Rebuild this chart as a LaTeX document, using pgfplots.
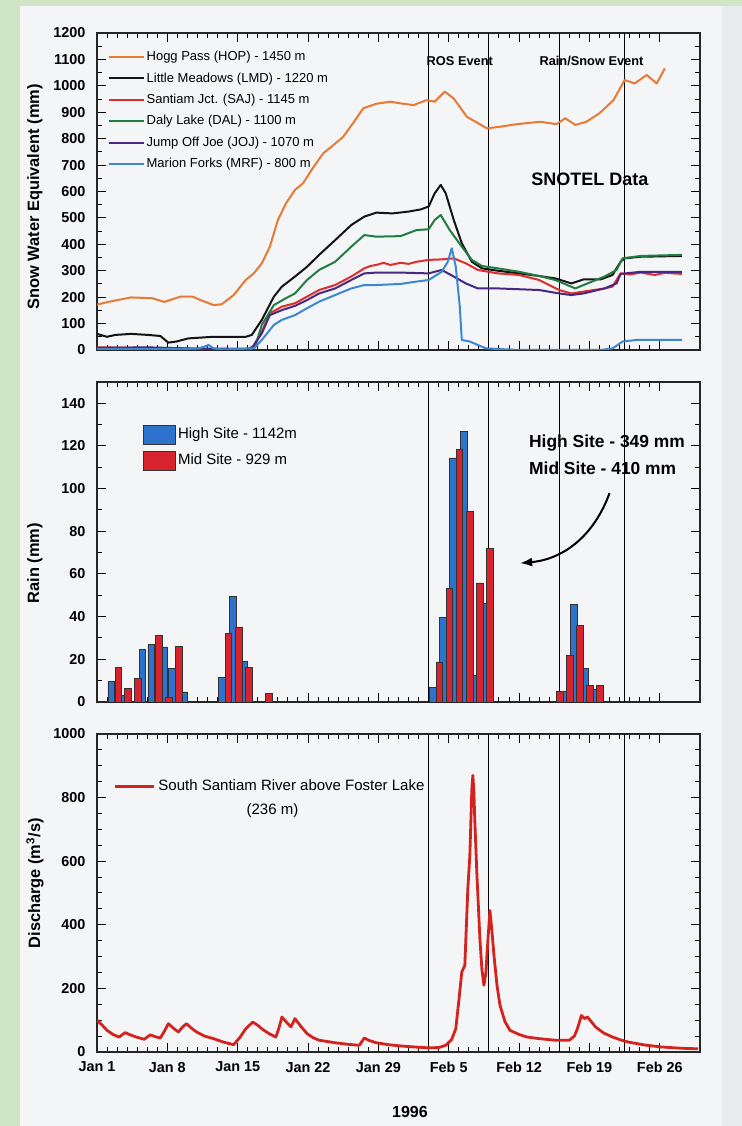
\documentclass[border=0pt]{standalone}
\usepackage{fontspec}
\setmainfont{Liberation Sans}
\usepackage{pgfplots}
\pgfplotsset{compat=1.18}
\usetikzlibrary{arrows.meta}

\definecolor{paper}{RGB}{243,245,247}
\definecolor{sidebar}{RGB}{207,229,198}
\definecolor{edge}{RGB}{233,236,238}
\definecolor{hop}{RGB}{232,122,52}
\definecolor{lmd}{RGB}{20,20,20}
\definecolor{saj}{RGB}{222,45,45}
\definecolor{dal}{RGB}{35,125,65}
\definecolor{joj}{RGB}{72,40,130}
\definecolor{mrf}{RGB}{60,135,210}
\definecolor{barblue}{RGB}{45,115,205}
\definecolor{barred}{RGB}{215,35,45}
\definecolor{river}{RGB}{212,35,30}

\pgfplotsset{
  panel/.style={
    scale only axis, width=301.5pt, anchor=south west,
    xmin=0, xmax=60,
    xtick={0,7,...,56}, minor x tick num=6,
    tick align=inside,
    major tick length=4.5pt, minor tick length=2.5pt,
    every tick/.style={black, line width=0.5pt},
    axis line style={black!85, line width=0.8pt},
    ticklabel style={font=\bfseries\fontsize{7.2}{8}\selectfont},
    yticklabel style={xshift=-2.3pt},
    xticklabel style={yshift=-1.5pt},
    /pgf/number format/assume math mode=true,
    /pgf/number format/1000 sep={},
    every axis y label/.style={at={(rel axis cs:0,0.5)}, xshift=-31pt, rotate=90, anchor=center,
      font=\bfseries\fontsize{8.2}{9}\selectfont},
  },
  event/.style={black, line width=0.5pt, forget plot},
}

\begin{document}
\begin{tikzpicture}
\fill[paper] (0pt,0pt) rectangle (371pt,563pt);
\fill[edge] (361pt,0pt) rectangle (371pt,563pt);
\fill[sidebar] (0pt,0pt) rectangle (10pt,563pt);
\fill[sidebar] (0pt,560pt) rectangle (371pt,563pt);
\useasboundingbox (0pt,0pt) rectangle (371pt,563pt);

% ---------- snow water equivalent
\begin{axis}[panel, at={(48.5pt,388pt)}, height=158.5pt,
  ymin=0, ymax=1200, ytick={0,100,...,1200}, minor y tick num=1,
  xticklabels=\empty,
  ylabel={Snow Water Equivalent (mm)}, ylabel style={at={(rel axis cs:0,0.483)}},
  legend style={at={(rel axis cs:0.017,0.952)}, anchor=north west, draw=none, fill=none,
    font=\fontsize{6.5}{7}\selectfont, row sep=2.4pt, inner sep=0pt,
    nodes={inner sep=1pt, text height=5pt, text depth=1.3pt}},
  legend cell align=left,
  legend image code/.code={\draw[#1] (0pt,0pt) -- (17.5pt,0pt);},
  every axis plot/.append style={line width=1pt, line join=round}]
\addplot[event] coordinates {(33,0) (33,1200)};
\addplot[event] coordinates {(39,0) (39,1200)};
\addplot[event] coordinates {(46,0) (46,1200)};
\addplot[event] coordinates {(52.5,0) (52.5,1200)};

\addplot[hop] coordinates {
 (0,172) (1.5,185) (3.4,199) (5.5,196) (6.7,182) (8.3,202) (9.5,202) (10.3,189)
 (11.6,170) (12.4,173) (13.6,208) (14.8,265) (15.6,290) (16.4,328) (17.2,391)
 (18.0,492) (18.8,555) (19.7,606) (20.5,631) (21.5,690) (22.5,744) (23.5,775)
 (24.5,807) (25.5,860) (26.5,915) (27.8,932) (29.2,940) (30.1,934) (31.5,927)
 (32.8,946) (33.6,940) (34.6,978) (35.5,952) (36.8,883) (38.8,839) (40.1,845)
 (41.8,855) (44.1,864) (45.7,855) (46.6,877) (47.6,852) (48.7,864) (50.0,896)
 (51.4,946) (52.5,1022) (53.5,1009) (54.7,1041) (55.7,1009) (56.5,1066)};
\addlegendentry{Hogg Pass (HOP) - 1450 m}

\addplot[lmd] coordinates {
 (0,61) (1.0,50) (1.8,57) (3.4,61) (5.1,57) (6.3,53) (7.1,28) (7.9,32) (9.1,44)
 (11.6,50) (14.8,50) (15.4,57) (16.4,114) (17.6,202) (18.4,240) (19.7,278)
 (20.9,315) (22.1,360) (23.7,416) (25.3,473) (26.6,505) (27.8,520) (29.4,517)
 (31.0,524) (32.2,532) (33.0,543) (33.6,593) (34.2,625) (34.7,593) (35.5,492)
 (36.3,404) (37.3,334) (38.3,309) (39.9,300) (42.0,290) (44.0,280) (45.6,271)
 (47.2,252) (48.4,267) (50.1,267) (51.3,284) (52.1,334) (52.5,347) (54.1,353)
 (58.2,356)};
\addlegendentry{Little Meadows (LMD) - 1220 m}

\addplot[saj] coordinates {
 (0,10) (5,8) (10,5) (15,5) (15.4,6) (16.4,69) (17.2,139) (18.4,164) (19.7,177)
 (20.9,202) (22.1,227) (23.7,246) (25.3,278) (26.6,309) (27.2,318) (27.8,322)
 (28.5,330) (29.2,322) (30.2,330) (31.0,326) (31.8,334) (33.0,341) (34.3,343)
 (35.5,347) (36.7,328) (37.9,303) (39.9,290) (42,284) (44,265) (46,227)
 (47.2,214) (48.4,221) (50.5,233) (51.3,240) (52.1,290) (53.0,286) (54.1,293)
 (55.5,284) (56.5,292) (58.2,288)};
\addlegendentry{Santiam Jct. (SAJ) - 1145 m}

\addplot[dal] coordinates {
 (0,5) (5,5) (10,3) (15,3) (15.8,20) (16.4,95) (17.6,170) (18.8,196) (19.7,214)
 (20.9,265) (22.1,303) (23.7,334) (25.3,391) (26.6,435) (27.8,429) (30.2,431)
 (31.8,454) (33.0,457) (33.6,492) (34.2,511) (35.1,454) (36.3,391) (37.3,341)
 (38.3,318) (39.9,309) (42,296) (44,280) (45.6,265) (47.6,233) (48.8,252)
 (50.5,278) (51.7,303) (52.3,347) (54.1,356) (58.2,360)};
\addlegendentry{Daly Lake (DAL) - 1100 m}

\addplot[joj] coordinates {
 (0,8) (5,10) (10,5) (15,3) (15.4,6) (16.4,63) (17.2,132) (18.4,151) (19.7,167)
 (20.9,189) (22.1,214) (23.7,233) (25.3,265) (26.6,290) (27.8,293) (30.2,293)
 (33,290) (34.3,303) (35.5,278) (36.7,252) (37.9,233) (39.9,233) (42,230)
 (44,227) (46,214) (47.2,208) (48.4,214) (50.5,233) (51.7,252) (52.1,288)
 (54.1,296) (58.2,296)};
\addlegendentry{Jump Off Joe (JOJ) - 1070 m}

\addplot[mrf] coordinates {
 (0,3) (5,3) (10,5) (10.7,13) (11.1,19) (11.6,6) (12.5,2) (15.6,6) (16.4,38)
 (17.6,95) (18.4,114) (19.7,132) (20.9,158) (22.1,183) (23.7,208) (25.3,233)
 (26.6,246) (27.8,246) (30.2,250) (31.8,259) (33,265) (34.3,296) (34.9,334)
 (35.3,385) (35.7,315) (36.1,164) (36.3,38) (37.1,32) (38.7,6) (42,0) (50.1,0)
 (51.3,6) (52.3,32) (53.7,38) (58.2,38)};
\addlegendentry{Marion Forks (MRF) - 800 m}

\node[font=\bfseries\fontsize{6.4}{7}\selectfont] at (axis cs:36.1,1093) {ROS Event};
\node[font=\bfseries\fontsize{6.4}{7}\selectfont] at (axis cs:49.2,1093) {Rain/Snow Event};
\node[font=\bfseries\fontsize{9}{10}\selectfont] at (axis cs:49.05,647) {SNOTEL Data};
\end{axis}

% ---------- rain
\begin{axis}[panel, at={(48.5pt,212pt)}, height=160pt,
  ymin=0, ymax=150, ytick={0,20,...,140}, minor y tick num=1,
  xticklabels=\empty,
  ylabel={Rain (mm)}, ylabel style={at={(rel axis cs:0,0.434)}},
  legend style={at={(rel axis cs:0.076,0.866)}, anchor=north west, draw=none, fill=none,
    font=\fontsize{7.5}{8}\selectfont, row sep=3pt, inner sep=0pt,
    nodes={inner sep=1pt, text height=5.2pt, text depth=1.5pt}},
  legend cell align=left,
  legend image code/.code={\draw[#1] (0pt,-4.7pt) rectangle (16pt,4.7pt);}]
\addplot[event] coordinates {(33,0) (33,150)};
\addplot[event] coordinates {(39,0) (39,150)};
\addplot[event] coordinates {(46,0) (46,150)};
\addplot[event] coordinates {(52.5,0) (52.5,150)};

\addplot[ybar, bar width=0.65, bar shift=0pt, fill=barblue, draw=black!80, line width=0.4pt]
 coordinates {
 (1.41,9.7) (2.62,3) (4.53,24.5) (5.39,26.9) (6.67,25.8) (7.46,15.6) (8.69,4.7)
 (12.42,11.4) (13.53,49.5) (14.69,18.8)
 (33.43,6.9) (34.43,39.8) (35.43,114.4) (36.52,126.9) (37.58,12.3) (38.51,46.4)
 (46.57,5) (47.46,45.6) (48.59,15.9) (49.52,5.8)};
\addlegendentry{High Site - 1142m}

\addplot[ybar, bar width=0.65, bar shift=0pt, fill=barred, draw=black!80, line width=0.4pt]
 coordinates {
 (2.12,16.4) (3.07,6.3) (4.06,11.2) (6.14,31.3) (7.13,2.3) (8.14,26.1)
 (13.07,32) (14.11,35.2) (15.14,16.4) (17.08,4.2)
 (34.06,18.75) (35.06,53.4) (36.06,118.3) (37.09,89.4) (38.08,55.8) (39.10,71.9)
 (46.07,4.8) (47.07,21.7) (48.07,35.8) (49.06,7.8) (50.05,7.8)};
\addlegendentry{Mid Site - 929 m}

\node[anchor=west, font=\bfseries\fontsize{8.7}{10}\selectfont] at (axis cs:42.3,121.4) {High Site - 349 mm};
\node[anchor=west, font=\bfseries\fontsize{8.7}{10}\selectfont] at (axis cs:42.3,109.7) {Mid Site - 410 mm};
\draw[line width=1pt, -{Latex[length=6pt,width=4.5pt]}] (axis cs:51.0,97.9) to[out=-110, in=5] (axis cs:42.1,65.1);
\end{axis}

% ---------- discharge
\begin{axis}[panel, at={(48.5pt,37pt)}, height=159pt,
  ymin=0, ymax=1000, ytick={0,200,...,1000}, minor y tick num=3,
  xticklabels={Jan 1,Jan 8,Jan 15,Jan 22,Jan 29,Feb 5,Feb 12,Feb 19,Feb 26},
  ylabel={Discharge (m\textsuperscript{3}/s)}, ylabel style={at={(rel axis cs:0,0.531)}},
  legend style={at={(rel axis cs:0.027,0.834)}, anchor=west, draw=none, fill=none,
    font=\fontsize{7.5}{8}\selectfont, inner sep=0pt, nodes={inner sep=1.5pt}},
  legend image code/.code={\draw[#1] (0pt,0pt) -- (19.5pt,0pt);}]
\addplot[event] coordinates {(33,0) (33,1000)};
\addplot[event] coordinates {(39,0) (39,1000)};
\addplot[event] coordinates {(46,0) (46,1000)};
\addplot[event] coordinates {(52.5,0) (52.5,1000)};

\addplot[river, line width=1.4pt, line join=round] coordinates {
 (0,100) (0.5,85) (1.0,68) (1.6,55) (2.2,47) (2.8,61) (3.3,54) (3.9,47) (4.7,40)
 (5.3,54) (5.8,48) (6.3,44) (6.7,65) (7.1,89) (7.6,75) (8.1,63) (8.5,78) (8.9,89)
 (9.4,75) (9.9,63) (10.7,50) (11.6,42) (12.6,31) (13.6,23) (14.2,45) (14.8,73)
 (15.5,94) (16.0,84) (16.4,73) (17.1,58) (17.8,47) (18.1,75) (18.4,110) (18.9,92)
 (19.3,79) (19.7,105) (20.3,80) (20.9,58) (21.5,45) (22.1,37) (23.7,29) (25,24)
 (26.1,21) (26.6,44) (27.1,36) (27.8,29) (29,23) (30.2,19) (31.5,16) (33.0,13)
 (34,14) (34.7,21) (35.3,40) (35.7,73) (36.0,160) (36.3,252) (36.6,272) (36.9,514)
 (37.1,618) (37.3,828) (37.4,870) (37.5,820) (37.6,723) (37.8,560) (38.1,356)
 (38.3,260) (38.5,210) (38.7,250) (38.8,304) (39.0,400) (39.1,445) (39.3,380)
 (39.5,304) (39.8,210) (40.1,147) (40.6,95) (41.1,68) (42.0,55) (42.8,47) (44,42)
 (45.6,37) (47.0,37) (47.5,50) (47.8,73) (48.2,115) (48.5,105) (48.8,110) (49.2,95)
 (49.6,79) (50.4,60) (51.3,47) (52.1,38) (52.9,31) (54.5,22) (56.1,16) (58,12)
 (59.8,10)};
\addlegendentry{South Santiam River above Foster Lake}

\node[font=\fontsize{7.5}{8}\selectfont] at (axis cs:17.46,759) {(236 m)};
\end{axis}

\node[font=\bfseries\fontsize{8}{9}\selectfont] at (205pt,7pt) {1996};
\end{tikzpicture}
\end{document}
